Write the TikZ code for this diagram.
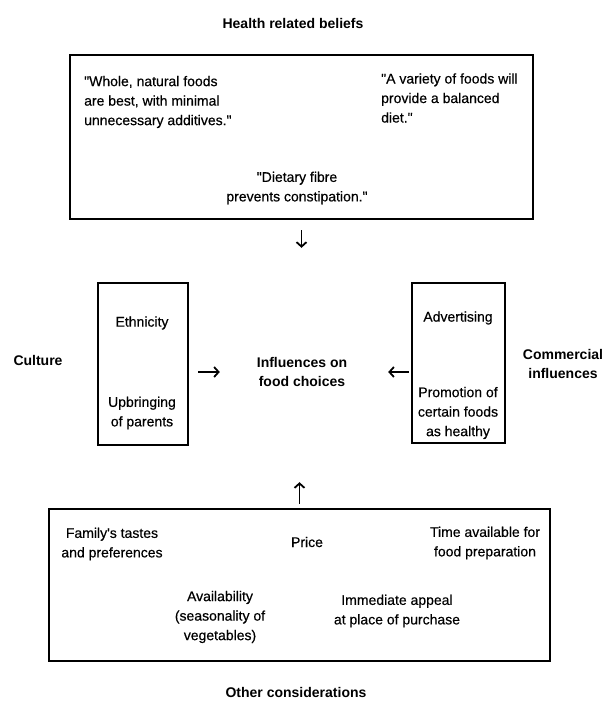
\documentclass[tikz,border=0pt]{standalone}
\usepackage{fontspec}
\setmainfont{Liberation Sans}
\newfontfamily\scanfont{Liberation Sans}[FakeBold=0.4]
\usetikzlibrary{arrows.meta}

\newcommand{\qm}{\symbol{34}}

\tikzset{
  frame/.style={draw,line width=2.6pt,inner sep=0pt},
  txt/.style={font=\scanfont\fontsize{14}{19.5}\selectfont,align=center,inner sep=0pt},
  head/.style={font=\bfseries\fontsize{14}{19.5}\selectfont,align=center,inner sep=0pt},
}

\begin{document}
\begin{tikzpicture}[x=1pt,y=-1pt,>={Straight Barb[length=4.5pt,width=10pt]}]
  \useasboundingbox (0,0) rectangle (606,701);

  % boxes
  \node[frame,minimum width=463pt,minimum height=164pt] (beliefbox) at (301.5,137) {};
  \node[frame,minimum width=90pt,minimum height=162pt] (cultbox) at (143,364) {};
  \node[frame,minimum width=93pt,minimum height=160pt] (commbox) at (458.5,363) {};
  \node[frame,minimum width=501pt,minimum height=152pt] (otherbox) at (299.5,585) {};

  % headings
  \node[head] (beliefs) at (293,23) {Health related beliefs};
  \node[head] (culture) at (38,360) {Culture};
  \node[head] (commercial) at (563,364) {Commercial\\influences};
  \node[head] (other) at (296,692) {Other considerations};
  \node[head,minimum width=100pt,minimum height=40pt] (choices) at (302,372) {Influences on\\food choices};

  % health related beliefs
  \node[txt,anchor=west,align=left] (whole) at (84,102) {\qm Whole, natural foods\\are best, with minimal\\unnecessary additives.\qm};
  \node[txt,anchor=west,align=left] (variety) at (381,98) {\qm A variety of foods will\\provide a balanced\\diet.\qm};
  \node[txt] (fibre) at (297,188) {\qm Dietary fibre\\prevents constipation.\qm};

  % culture and commercial
  \node[txt] (ethnic) at (142,323) {Ethnicity};
  \node[txt] (upbring) at (142,413) {Upbringing\\of parents};
  \node[txt] (advert) at (458,318) {Advertising};
  \node[txt] (promo) at (458,413) {Promotion of\\certain foods\\as healthy};

  % other considerations
  \node[txt] (family) at (112,544) {Family's tastes\\and preferences};
  \node[txt] (price) at (307,542) {Price};
  \node[txt] (time) at (485,543) {Time available for\\food preparation};
  \node[txt] (avail) at (220,617) {Availability\\(seasonality of\\vegetables)};
  \node[txt] (appeal) at (397,611) {Immediate appeal\\at place of purchase};

  % arrows
  \draw[->,line width=1.8pt,shorten <=10pt,shorten >=104pt] (beliefbox.south) -- (beliefbox.south |- choices.north);
  \draw[->,line width=1.8pt,shorten <=9pt,shorten >=32pt] (cultbox.east |- choices) -- (choices.west);
  \draw[->,line width=1.8pt,shorten <=2pt,shorten >=36pt] (commbox.west |- choices) -- (choices.east);
  \draw[->,line width=1.8pt,shorten <=4pt,shorten >=90pt] (otherbox.north) -- (otherbox.north |- choices.south);
\end{tikzpicture}
\end{document}
